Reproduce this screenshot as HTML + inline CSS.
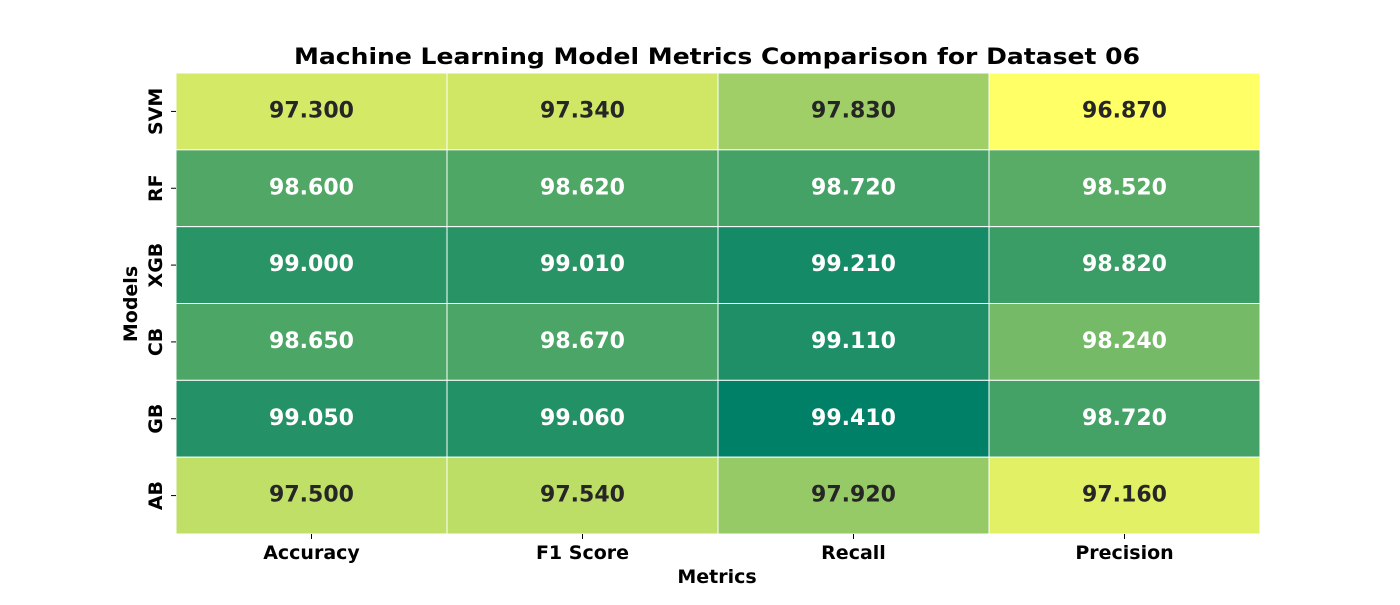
<!DOCTYPE html>
<html><head><meta charset="utf-8"><style>
body{margin:0;background:#fff;}
svg text{font-family:"DejaVu Sans","Liberation Sans",sans-serif;font-weight:bold;}
</style></head><body>
<svg id="chart" width="1400" height="600" xmlns="http://www.w3.org/2000/svg">
<text x="717" y="64" text-anchor="middle" font-size="22" textLength="846" lengthAdjust="spacingAndGlyphs">Machine Learning Model Metrics Comparison for Dataset 06</text>
<g id="cells"></g>
<text x="717" y="583" text-anchor="middle" font-size="19">Metrics</text>
<text transform="translate(137,304) rotate(-90)" text-anchor="middle" font-size="19">Models</text>
</svg>
<script>
const models = ["SVM","RF","XGB","CB","GB","AB"];
const metrics = ["Accuracy","F1 Score","Recall","Precision"];
const valuesAccuracy = [97.30,98.60,99.00,98.65,99.05,97.50];
const valuesF1 = [97.34,98.62,99.01,98.67,99.06,97.54];
const valuesRecall = [97.83,98.72,99.21,99.11,99.41,97.92];
const valuesPrecision = [96.87,98.52,98.82,98.24,98.72,97.16];
const series = [valuesAccuracy,valuesF1,valuesRecall,valuesPrecision];

const L=176,R=1260,T=73,B=534;
const cw=(R-L)/metrics.length, ch=(B-T)/models.length;
const all=series.flat(), vmin=Math.min(...all), vmax=Math.max(...all);
const NS="http://www.w3.org/2000/svg";
const svg=document.getElementById('chart'), g=document.getElementById('cells');
function color(v){const t=(vmax-v)/(vmax-vmin);return [t,0.5+0.5*t,0.4];}
function lum(c){const f=x=>x<=0.03928?x/12.92:Math.pow((x+0.055)/1.055,2.4);return 0.2126*f(c[0])+0.7152*f(c[1])+0.0722*f(c[2]);}
function el(tag,attrs){const e=document.createElementNS(NS,tag);for(const k in attrs)e.setAttribute(k,attrs[k]);return e;}
series.forEach((col,j)=>{
  col.forEach((v,i)=>{
    const c=color(v);
    const r=el('rect',{x:L+j*cw,y:T+i*ch,width:cw,height:ch,fill:`rgb(${c.map(x=>Math.round(x*255)).join(',')})`,stroke:'#fff','stroke-width':1});
    
    
    g.appendChild(r);
    const t=el('text',{x:L+j*cw+cw/2,y:T+i*ch+ch/2+6,'text-anchor':'middle','font-size':22,fill:lum(c)>0.408?'#262626':'#fff'});
    
    
    t.textContent=v.toFixed(3);
    g.appendChild(t);
  });
});
metrics.forEach((m,j)=>{
  const x=L+j*cw+cw/2;
  const tk=el('line',{x1:x,x2:x,y1:B,y2:B+5,stroke:'#000'});
  
  
  svg.appendChild(tk);
  const t=el('text',{x:x,y:B+25,'text-anchor':'middle','font-size':19});
  
  
  t.textContent=m;svg.appendChild(t);
});
models.forEach((m,i)=>{
  const y=T+i*ch+ch/2;
  const tk=el('line',{x1:L-5,x2:L,y1:y,y2:y,stroke:'#000'});
  
  
  svg.appendChild(tk);
  const t=el('text',{transform:`translate(${L-14},${y}) rotate(-90)`,'text-anchor':'middle','font-size':19});
  
  
  t.textContent=m;svg.appendChild(t);
});
</script>
</body></html>
